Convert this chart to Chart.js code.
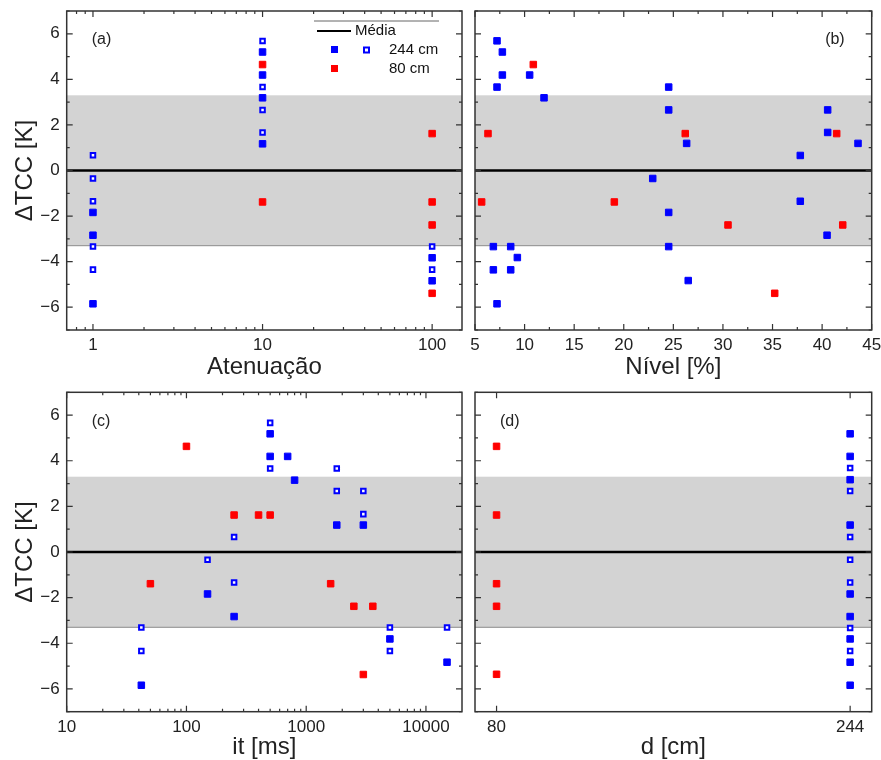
<!DOCTYPE html>
<html>
<head>
<meta charset="utf-8">
<title>ΔTCC</title>
<script src="https://cdn.jsdelivr.net/npm/chart.js@4.4.1/dist/chart.umd.min.js"></script>
<style>
  body { margin: 0; background: #fff; }
  #wrap { position: relative; width: 881px; height: 760px; }
  #wrap canvas { position: absolute; }
</style>
</head>
<body>
<div id="wrap">
  <canvas id="panelA" width="468" height="380" style="left:0;top:0"></canvas>
  <canvas id="panelB" width="413" height="380" style="left:468px;top:0"></canvas>
  <canvas id="panelC" width="468" height="380" style="left:0;top:380px"></canvas>
  <canvas id="panelD" width="413" height="380" style="left:468px;top:380px"></canvas>
</div>
<script>
// ---- data ----
const meanValue = 0;
const bandHalf = 3.3;
const yTickValues = [-6, -4, -2, 0, 2, 4, 6];

// (a) Atenuação
const attTicks = [1, 10, 100];
const attFilledX = [1, 1, 1, 10, 10, 10, 10, 100, 100];
const attFilledY = [-1.84, -2.84, -5.85, 5.2, 4.19, 3.19, 1.17, -3.83, -4.84];
const attOpenX = [1, 1, 1, 1, 1, 10, 10, 10, 10, 100, 100];
const attOpenY = [0.67, -0.35, -1.35, -3.34, -4.35, 5.68, 3.66, 2.66, 1.67, -3.34, -4.35];
const attRedX = [10, 10, 100, 100, 100, 100];
const attRedY = [4.65, -1.38, 1.62, -1.38, -2.39, -5.39];

// (b) Nível [%]
const levelTicks = [5, 10, 15, 20, 25, 30, 35, 40, 45];
const levelBlueX = [7.22, 7.76, 7.76, 10.51, 7.22, 11.96, 24.53, 24.53, 40.56, 40.56, 26.34, 43.62, 37.8,
  22.92, 37.8, 24.53, 40.5, 6.85, 8.6, 24.53, 9.27, 6.85, 8.6, 26.5, 7.22];
const levelBlueY = [5.69, 5.2, 4.19, 4.19, 3.66, 3.19, 3.66, 2.66, 2.66, 1.67, 1.19, 1.19, 0.66,
  -0.35, -1.35, -1.84, -2.84, -3.34, -3.34, -3.34, -3.82, -4.36, -4.36, -4.83, -5.85];
const levelRedX = [10.88, 6.31, 26.2, 41.47, 5.67, 19.05, 30.51, 42.08, 35.22];
const levelRedY = [4.65, 1.62, 1.62, 1.62, -1.38, -1.38, -2.39, -2.39, -5.39];

// (c) it [ms]
const itTicks = [10, 100, 1000, 10000];
const itFilledX = [42, 150, 250, 500, 500, 700, 800, 1800, 3000, 5000, 15000];
const itFilledY = [-5.84, -1.84, -2.83, 5.18, 4.19, 4.19, 3.15, 1.18, 1.18, -3.81, -4.83];
const itOpenX = [42, 42, 150, 250, 250, 500, 500, 1800, 1800, 3000, 3000, 5000, 5000, 15000];
const itOpenY = [-3.31, -4.34, -0.34, 0.66, -1.34, 5.66, 3.66, 3.66, 2.67, 2.67, 1.66, -3.31, -4.34, -3.31];
const itRedX = [50, 100, 250, 400, 500, 1600, 2500, 3000, 3600];
const itRedY = [-1.39, 4.63, 1.62, 1.62, 1.62, -1.39, -2.38, -5.37, -2.38];

// (d) d [cm]
const distTicks = [80, 244];
const distFilledX = [244, 244, 244, 244, 244, 244, 244, 244, 244];
const distFilledY = [5.18, 4.19, 3.17, 1.18, -1.84, -2.83, -3.81, -4.83, -5.84];
const distOpenX = [244, 244, 244, 244, 244, 244, 244];
const distOpenY = [3.68, 2.67, 0.66, -0.34, -1.34, -3.33, -4.34];
const distRedX = [80, 80, 80, 80, 80];
const distRedY = [4.63, 1.62, -1.39, -2.38, -5.36];

const BLUE = '#0000ff';
const RED = '#ff0000';
const INK = '#222';
const FONT = 'Arial, "Liberation Sans", sans-serif';

const toPoints = (xs, ys) => xs.map((v, i) => ({ x: v, y: ys[i] }));
const fmtNum = v => (v < 0 ? '\u2212' + Math.abs(v) : String(v));

function logMinor(min, max) {
    const out = [];
    for (let d = 0.1; d <= max; d *= 10) {
        for (let k = 2; k <= 9; k++) {
            const v = Math.round(k * d * 1000) / 1000;
            if (v > min && v < max) out.push(v);
        }
    }
    return out;
}
const stepMinor = (min, max, step) => {
    const out = [];
    for (let v = min; v <= max + 1e-9; v += step) out.push(v);
    return out;
};

// band, mean line, inward ticks, frame, panel tag, legend
const framePlugin = {
    id: 'frame',
    beforeDatasetsDraw(chart) {
        const { ctx, chartArea: a, scales: { y } } = chart;
        const yHi = y.getPixelForValue(meanValue + bandHalf);
        const yLo = y.getPixelForValue(meanValue - bandHalf);
        const y0 = y.getPixelForValue(meanValue);
        ctx.save();
        ctx.fillStyle = '#d3d3d3';
        ctx.fillRect(a.left, yHi, a.right - a.left, yLo - yHi);
        ctx.strokeStyle = '#8c8c8c';
        ctx.lineWidth = 1;
        ctx.beginPath();
        ctx.moveTo(a.left, yLo);
        ctx.lineTo(a.right, yLo);
        ctx.stroke();
        ctx.strokeStyle = '#000';
        ctx.lineWidth = 2.5;
        ctx.beginPath();
        ctx.moveTo(a.left, y0);
        ctx.lineTo(a.right, y0);
        ctx.stroke();
        ctx.restore();
    },
    afterDatasetsDraw(chart, args, opts) {
        const { ctx, chartArea: a, scales: { x, y } } = chart;
        ctx.save();
        ctx.strokeStyle = '#333';
        ctx.lineWidth = 1.2;
        const xTicks = (vals, len) => vals.forEach(v => {
            const px = x.getPixelForValue(v);
            ctx.beginPath();
            ctx.moveTo(px, a.bottom); ctx.lineTo(px, a.bottom - len);
            ctx.moveTo(px, a.top); ctx.lineTo(px, a.top + len);
            ctx.stroke();
        });
        const yTicks = (vals, len) => vals.forEach(v => {
            const py = y.getPixelForValue(v);
            ctx.beginPath();
            ctx.moveTo(a.left, py); ctx.lineTo(a.left + len, py);
            ctx.moveTo(a.right, py); ctx.lineTo(a.right - len, py);
            ctx.stroke();
        });
        xTicks(opts.xMajor, 6);
        xTicks(opts.xMinor, 3);
        yTicks(yTickValues, 6);
        yTicks(stepMinor(-7, 7, 2), 3);

        ctx.lineWidth = 1.5;
        ctx.strokeRect(a.left, a.top, a.right - a.left, a.bottom - a.top);

        // panel tag
        ctx.fillStyle = INK;
        ctx.font = '16px ' + FONT;
        ctx.textBaseline = 'middle';
        if (opts.tagRight) {
            ctx.textAlign = 'right';
            ctx.fillText(opts.tag, a.right - 27, a.top + 29);
        } else {
            ctx.textAlign = 'left';
            ctx.fillText(opts.tag, a.left + 25, a.top + 29);
        }

        if (opts.legend) {
            const r = a.right;
            ctx.strokeStyle = '#666';
            ctx.lineWidth = 1;
            ctx.beginPath();
            ctx.moveTo(r - 148, a.top + 10);
            ctx.lineTo(r - 23, a.top + 10);
            ctx.stroke();
            ctx.strokeStyle = '#000';
            ctx.lineWidth = 2;
            ctx.beginPath();
            ctx.moveTo(r - 145, a.top + 20);
            ctx.lineTo(r - 111, a.top + 20);
            ctx.stroke();
            ctx.font = '15px ' + FONT;
            ctx.textAlign = 'left';
            ctx.fillStyle = '#111';
            ctx.fillText('Média', r - 107, a.top + 20);
            ctx.fillText('244 cm', r - 73, a.top + 39);
            ctx.fillText('80 cm', r - 73, a.top + 58);
            ctx.fillStyle = BLUE;
            ctx.fillRect(r - 131, a.top + 35, 7, 7);
            ctx.strokeStyle = BLUE;
            ctx.lineWidth = 2;
            ctx.strokeRect(r - 98, a.top + 36.5, 5, 5);
            ctx.fillStyle = RED;
            ctx.fillRect(r - 131, a.top + 54, 7, 7);
        }
        ctx.restore();
    }
};

function makePanel(id, p) {
    const ctx = document.getElementById(id).getContext('2d');
    const datasets = [];
    if (p.openX) {
        datasets.push({
            data: toPoints(p.openX, p.openY), pointStyle: 'rect', pointRadius: 3.2,
            backgroundColor: '#fff', borderColor: BLUE, borderWidth: 2
        });
    }
    datasets.push({
        data: toPoints(p.filledX, p.filledY), pointStyle: 'rect', pointRadius: 4.6,
        backgroundColor: BLUE, borderColor: BLUE, borderWidth: 1
    });
    datasets.push({
        data: toPoints(p.redX, p.redY), pointStyle: 'rect', pointRadius: 4.6,
        backgroundColor: RED, borderColor: RED, borderWidth: 1
    });

    return new Chart(ctx, {
        type: 'scatter',
        data: { datasets },
        options: {
            responsive: false,
            animation: false,
            events: [],
            layout: { padding: p.padding },
            plugins: {
                legend: { display: false },
                tooltip: { enabled: false },
                frame: { xMajor: p.xTicks, xMinor: p.xMinor, tag: p.tag, tagRight: p.tagRight, legend: p.legend }
            },
            scales: {
                x: {
                    type: p.xType,
                    min: p.xMin,
                    max: p.xMax,
                    grid: { display: false, drawTicks: false },
                    border: { display: false },
                    afterBuildTicks: s => { s.ticks = p.xTicks.map(v => ({ value: v })); },
                    afterFit: s => { s.height = p.xHeight; s.paddingLeft = 0; s.paddingRight = 0; },
                    ticks: {
                        padding: 5, color: INK, maxRotation: 0, autoSkip: false,
                        font: { size: 17, family: FONT },
                        callback: v => fmtNum(v)
                    },
                    title: {
                        display: true, text: p.xTitle, color: INK,
                        font: { size: 24, family: FONT },
                        padding: { top: 0, bottom: -2 }
                    }
                },
                y: {
                    min: -7,
                    max: 7,
                    display: p.showY,
                    grid: { display: false, drawTicks: false },
                    border: { display: false },
                    afterBuildTicks: s => { s.ticks = yTickValues.map(v => ({ value: v })); },
                    afterFit: s => {
                        s.width = p.showY ? 66.7 : 0;
                        s.paddingTop = 0;
                        s.paddingBottom = 0;
                    },
                    ticks: {
                        padding: 7, color: INK,
                        font: { size: 17, family: FONT },
                        callback: v => fmtNum(v)
                    },
                    title: {
                        display: true, text: 'ΔTCC [K]', color: INK,
                        font: { size: 24, family: FONT },
                        padding: { top: 10.5, bottom: 0 }
                    }
                }
            }
        },
        plugins: [framePlugin]
    });
}

document.addEventListener('DOMContentLoaded', () => {

    makePanel('panelA', {
        xType: 'logarithmic', xMin: 0.7, xMax: 150, xTicks: attTicks, xMinor: logMinor(0.7, 150),
        xTitle: 'Atenuação', xHeight: 50, showY: true, tag: '(a)', legend: true,
        padding: { left: 0, top: 11, right: 5.3, bottom: 0 },
        filledX: attFilledX, filledY: attFilledY, openX: attOpenX, openY: attOpenY,
        redX: attRedX, redY: attRedY
    });

    makePanel('panelB', {
        xType: 'linear', xMin: 5, xMax: 45, xTicks: levelTicks, xMinor: stepMinor(7.5, 42.5, 5),
        xTitle: 'Nível [%]', xHeight: 50, showY: false, tag: '(b)', tagRight: true,
        padding: { left: 7, top: 11, right: 9.3, bottom: 0 },
        filledX: levelBlueX, filledY: levelBlueY, redX: levelRedX, redY: levelRedY
    });

    makePanel('panelC', {
        xType: 'logarithmic', xMin: 10, xMax: 20000, xTicks: itTicks, xMinor: logMinor(10, 20000),
        xTitle: 'it [ms]', xHeight: 48.3, showY: true, tag: '(c)',
        padding: { left: 0, top: 12.3, right: 5.3, bottom: 0 },
        filledX: itFilledX, filledY: itFilledY, openX: itOpenX, openY: itOpenY,
        redX: itRedX, redY: itRedY
    });

    makePanel('panelD', {
        xType: 'linear', xMin: 70, xMax: 254, xTicks: distTicks, xMinor: [],
        xTitle: 'd [cm]', xHeight: 48.3, showY: false, tag: '(d)',
        padding: { left: 7, top: 12.3, right: 9.3, bottom: 0 },
        filledX: distFilledX, filledY: distFilledY, openX: distOpenX, openY: distOpenY,
        redX: distRedX, redY: distRedY
    });

});
</script>
</body>
</html>
